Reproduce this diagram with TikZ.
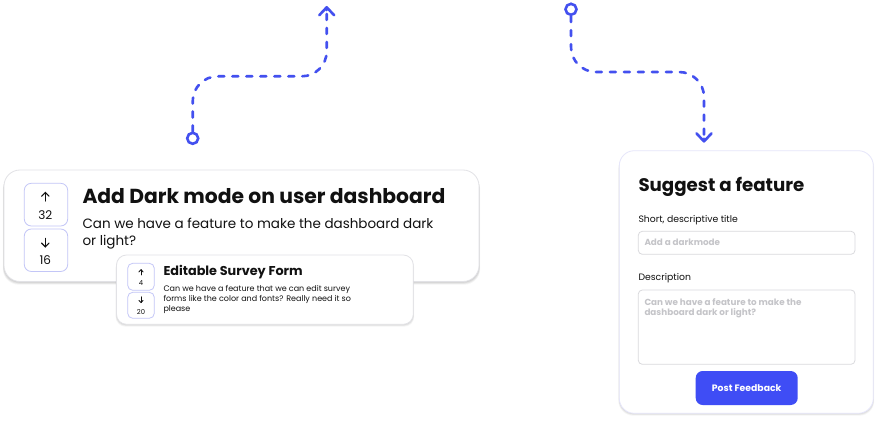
\documentclass[tikz,border=0pt]{standalone}
\usepackage{fontspec}
\setmainfont{Poppins}
\usetikzlibrary{arrows.meta,calc}
\definecolor{accent}{HTML}{4350EF}
\definecolor{btnblue}{HTML}{3F4DF5}
\definecolor{cardline}{HTML}{E2E2E6}
\definecolor{formline}{HTML}{E6E6FA}
\definecolor{votebord}{HTML}{C3C6F7}
\definecolor{fieldline}{HTML}{DADADD}
\definecolor{placeholder}{HTML}{C4C4C8}
\definecolor{ink}{HTML}{111111}
\tikzset{
  dashpath/.style={accent, line width=2.6pt, line cap=round, dash pattern=on 6pt off 8pt, rounded corners=25pt},
  ringnode/.style={circle, draw=accent, line width=2.6pt, minimum size=11pt, inner sep=0pt},
  tipstyle/.style={-{Straight Barb[length=8pt,width=15pt,round]}},
  card/.style={fill=white, draw=cardline, line width=0.8pt},
  votebox/.style={draw=votebord, line width=0.8pt},
  txt/.style={inner sep=0pt, anchor=base west, text=ink},
  ctxt/.style={inner sep=0pt, anchor=base, text=ink},
  smallarrow/.style={ink, line width=1.1pt, line cap=round},
  field/.style={draw=fieldline, line width=0.8pt, rounded corners=4pt, fill=white},
}
\begin{document}
\begin{tikzpicture}[x=1pt,y=-1pt]
\useasboundingbox (0,0) rectangle (878,422);
\fill[white] (0,0) rectangle (878,422);

% ---------------- connectors ----------------
\node[ringnode] (c1) at (192.7,138.3) {};
\coordinate (a1) at (326.7,6);
\draw[dashpath] (c1.north) -- (192.7,76.3) -- (326.7,76.3) -- ($(a1)+(0,4)$);
\draw[accent, line width=2.6pt, line cap=round, tipstyle] ($(a1)+(0,4.1)$) -- (a1);

\node[ringnode] (c2) at (571,9.3) {};
\coordinate (a2) at (704,142.7);
\draw[dashpath] (c2.south) -- (571,72) -- (704,72) -- ($(a2)+(0,-4)$);
\draw[accent, line width=2.6pt, line cap=round, tipstyle] ($(a2)+(0,-4.1)$) -- (a2);

% ---------------- card 1 ----------------
\foreach \d/\o in {1/0.05,2/0.05,3/0.05,4/0.04}{
  \fill[black, opacity=\o, rounded corners=16pt] (4-0.3*\d,170+\d) rectangle (479+0.3*\d,281.5+0.8*\d);
}
\draw[card, rounded corners=16pt] (4,170) rectangle (479,281.5);

\draw[votebox, rounded corners=7pt] (24.3,183.3) -- (24.3,226) -- (67.7,226) -- (67.7,183.3) -- cycle;
\draw[votebox, rounded corners=7pt] (24.3,229) -- (24.3,271.5) -- (67.7,271.5) -- (67.7,229) -- cycle;
\draw[smallarrow] (45.3,201) -- (45.3,192.5);
\draw[smallarrow] (41.6,196.2) -- (45.3,192.5) -- (49,196.2);
\node[ctxt, font=\fontsize{12}{14}\selectfont] (v1) at (45.3,220) {32};
\draw[smallarrow] (45.3,238.3) -- (45.3,246.8);
\draw[smallarrow] (41.6,243.1) -- (45.3,246.8) -- (49,243.1);
\node[ctxt, font=\fontsize{12}{14}\selectfont] (v2) at (45.3,265) {16};

\node[txt, font=\bfseries\fontsize{20.3}{24}\selectfont] (t1) at (82.3,203.3) {Add Dark mode on user dashboard};
\node[txt, font=\fontsize{13.5}{16}\selectfont] (b1) at (82.3,228.3) {Can we have a feature to make the dashboard dark};
\node[txt, font=\fontsize{13.5}{16}\selectfont] (b2) at (82.3,245) {or light?};

% ---------------- card 2 ----------------
\foreach \d/\o in {1/0.05,2/0.05,3/0.04}{
  \fill[black, opacity=\o, rounded corners=10pt] (116.5-0.3*\d,255+\d) rectangle (413.3+0.3*\d,324.3+0.8*\d);
}
\draw[card, rounded corners=10pt] (116.5,255) rectangle (413.3,324.3);

\draw[votebox, rounded corners=5pt] (127.7,263.3) -- (127.7,290.3) -- (154.3,290.3) -- (154.3,263.3) -- cycle;
\draw[votebox, rounded corners=5pt] (127.7,292.3) -- (127.7,318.3) -- (154.3,318.3) -- (154.3,292.3) -- cycle;
\draw[smallarrow, line width=0.8pt] (141,275) -- (141,269.8);
\draw[smallarrow, line width=0.8pt] (138.8,272) -- (141,269.8) -- (143.2,272);
\node[ctxt, font=\fontsize{6.8}{8}\selectfont] (v3) at (141,285.7) {4};
\draw[smallarrow, line width=0.8pt] (141,296.8) -- (141,302.5);
\draw[smallarrow, line width=0.8pt] (138.8,300.3) -- (141,302.5) -- (143.2,300.3);
\node[ctxt, font=\fontsize{6.8}{8}\selectfont] (v4) at (141,314) {20};

\node[txt, font=\bfseries\fontsize{12.8}{15}\selectfont] (t2) at (163.3,275) {Editable Survey Form};
\node[txt, font=\fontsize{8}{10}\selectfont] (b3) at (163.3,291.5) {Can we have a feature that we can edit survey};
\node[txt, font=\fontsize{8}{10}\selectfont] (b4) at (163.3,301.5) {forms like the color and fonts? Really need it so};
\node[txt, font=\fontsize{8}{10}\selectfont] (b5) at (163.3,311.5) {please};

% ---------------- form card ----------------
\foreach \d/\o in {1/0.05,2/0.05,3/0.04}{
  \fill[black, opacity=\o, rounded corners=15pt] (619.3-0.3*\d,150.7+\d) rectangle (873.3+0.3*\d,413.3+0.8*\d);
}
\draw[fill=white, draw=formline, line width=0.8pt, rounded corners=15pt] (619.3,150.7) rectangle (873.3,413.3);

\node[txt, font=\bfseries\fontsize{18.2}{22}\selectfont] (t3) at (638.3,192) {Suggest a feature};
\node[txt, font=\fontsize{9.3}{11}\selectfont] (l1) at (638.3,222.5) {Short, descriptive title};
\draw[field] (638.3,231.3) rectangle (855,254.3);
\node[txt, text=placeholder, font=\bfseries\fontsize{8.8}{11}\selectfont] (p1) at (644.3,245.6) {Add a darkmode};
\node[txt, font=\fontsize{9.3}{11}\selectfont] (l2) at (638.3,280.7) {Description};
\draw[field] (638.3,290) rectangle (855,364.3);
\node[txt, text=placeholder, font=\bfseries\fontsize{8.8}{11}\selectfont] (p2) at (644.3,305) {Can we have a feature to make the};
\node[txt, text=placeholder, font=\bfseries\fontsize{8.8}{11}\selectfont] (p3) at (644.3,315.8) {dashboard dark or light?};

\draw[fill=btnblue, draw=none, rounded corners=7pt] (695.7,371) rectangle (797.7,405);
\node[ctxt, text=white, font=\bfseries\fontsize{9.3}{11}\selectfont] (btn) at (746.7,391.3) {Post Feedback};
\end{tikzpicture}
\end{document}
